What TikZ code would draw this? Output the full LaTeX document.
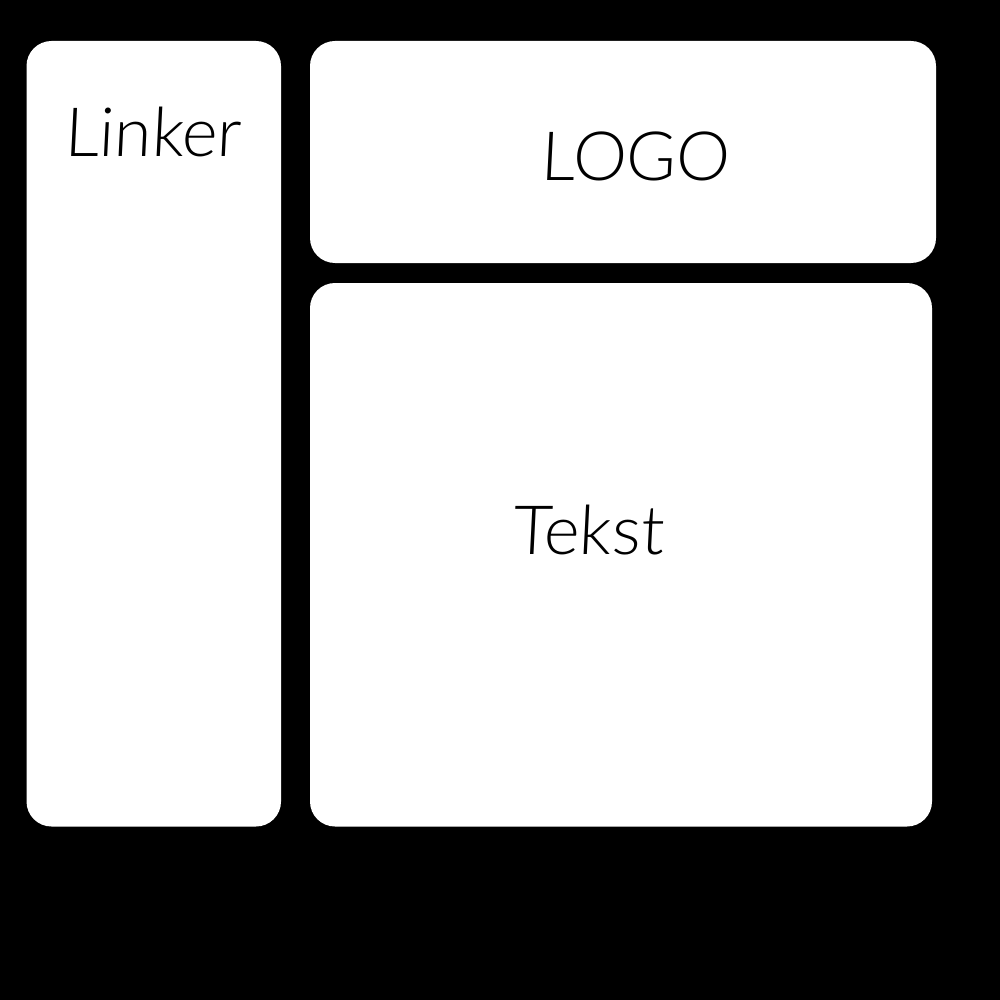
\documentclass[tikz,border=0pt]{standalone}
\usepackage{fontspec}
\IfFontExistsTF{Lato Light}{\setmainfont{Lato Light}[FakeSlant=0.05]}{\setmainfont{Open Sans}[FakeSlant=0.05]}
\begin{document}
\begin{tikzpicture}[x=1pt,y=-1pt,
  panel/.style={fill=white,rounded corners=25pt},
  label/.style={anchor=base,inner sep=0pt,font=\fontsize{68}{68}\selectfont,text=black}]
\fill[black] (0,0) rectangle (1000,1000);
\useasboundingbox (0,0) rectangle (1000,1000);
\fill[panel] (26.5,41) rectangle (281,826.5);
\fill[panel] (310,41) rectangle (936,263);
\fill[panel] (310,283) rectangle (932,826.5);
\node[label] (linker) at (152.5,157) {Linker};
\node[label] (logo) at (635,181) {LOGO};
\node[label] (tekst) at (588,554) {Tekst};
\end{tikzpicture}
\end{document}
